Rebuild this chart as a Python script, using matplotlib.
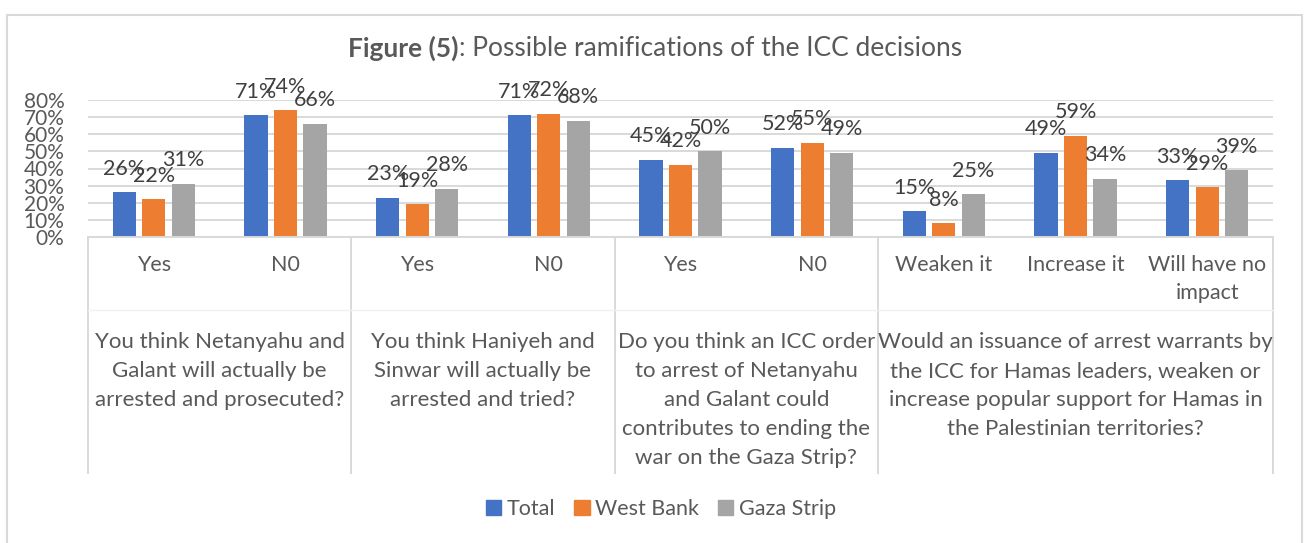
import matplotlib.pyplot as plt
from matplotlib.patches import Patch, Rectangle
from matplotlib.lines import Line2D

plt.rcParams['font.family'] = ['Lato', 'DejaVu Sans']

# data
series = ['Total', 'West Bank', 'Gaza Strip']
colors = ['#4472C4', '#ED7D31', '#A5A5A5']
categories = ['Yes', 'N0', 'Yes', 'N0', 'Yes', 'N0',
              'Weaken it', 'Increase it', 'Will have no\nimpact']
total = [26, 71, 23, 71, 45, 52, 15, 49, 33]
west_bank = [22, 74, 19, 72, 42, 55, 8, 59, 29]
gaza = [31, 66, 28, 68, 50, 49, 25, 34, 39]
groups = ['You think Netanyahu and\nGalant will actually be\narrested and prosecuted?',
          'You think Haniyeh and\nSinwar will actually be\narrested and tried?',
          'Do you think an ICC order\nto arrest of Netanyahu\nand Galant could\ncontributes to ending the\nwar on the Gaza Strip?',
          'Would an issuance of arrest warrants by\nthe ICC for Hamas leaders, weaken or\nincrease popular support for Hamas in\nthe Palestinian territories?']
group_sizes = [2, 2, 2, 3]
yticks = [0, 10, 20, 30, 40, 50, 60, 70, 80]

W, H = 1304, 543
fig = plt.figure(figsize=(W / 100, H / 100), dpi=100)
x0, x1, ytop, ybot = 88, 1273, 100, 237
ax = fig.add_axes([x0 / W, 1 - ybot / H, (x1 - x0) / W, (ybot - ytop) / H])

def ay(ypx):
    # pixel row -> axes fraction
    return (ybot - ypx) / (ybot - ytop)

grey_txt = '#595959'
line_c = '#D9D9D9'

off, bw = 0.224, 0.175
for j, vals in enumerate([total, west_bank, gaza]):
    xs = [i + (j - 1) * off for i in range(len(categories))]
    ax.bar(xs, vals, width=bw, color=colors[j], zorder=3)
    for x, v in zip(xs, vals):
        ax.annotate(f'{v}%', (x, v), xytext=(0, 17), textcoords='offset points',
                    ha='center', va='center', fontsize=15.5, color='#404040', zorder=4)

ax.set_xlim(-0.5, len(categories) - 0.5)
ax.set_ylim(0, 80)
ax.set_yticks(yticks)
ax.set_yticklabels([f'{t}%' for t in yticks], fontsize=15, color=grey_txt)
ax.tick_params(axis='y', length=0, pad=17)
ax.set_xticks([])
ax.grid(axis='y', color=line_c, lw=1.4, zorder=0)
for s in ['top', 'right', 'left']:
    ax.spines[s].set_visible(False)
ax.spines['bottom'].set_color(line_c)
ax.spines['bottom'].set_linewidth(1.4)
ax.spines['bottom'].set_zorder(5)

tr = ax.get_xaxis_transform()
for i, c in enumerate(categories):
    ax.text(i, ay(255), c, transform=tr, ha='center', va='top', fontsize=15.5,
            color=grey_txt, linespacing=1.5)

# group separators and group labels
bounds = [-0.5]
for n in group_sizes:
    bounds.append(bounds[-1] + n)
for b in bounds:
    ax.add_line(Line2D([b, b], [0, ay(473)], transform=tr, color=line_c, lw=1.4,
                       clip_on=False))
ax.add_line(Line2D([-0.5, len(categories) - 0.5], [ay(310), ay(310)], transform=tr,
                   color='#F0F0F0', lw=1, clip_on=False))
for k, g in enumerate(groups):
    mid = (bounds[k] + bounds[k + 1]) / 2
    ax.text(mid, ay(332), g, transform=tr, ha='center', va='top', fontsize=16,
            color=grey_txt, linespacing=1.56)

# title: bold part + normal part, centred together
fig.canvas.draw()
r = fig.canvas.get_renderer()
t1 = fig.text(0, 0, 'Figure (5)', fontsize=19, fontweight='bold', color=grey_txt)
t2 = fig.text(0, 0, ': Possible ramifications of the ICC decisions', fontsize=19,
              color=grey_txt)
w1 = t1.get_window_extent(r).width
w2 = t2.get_window_extent(r).width
start = 655 - (w1 + w2) / 2
yt = 1 - 48 / H
t1.set_position((start / W, yt))
t1.set_va('center')
t2.set_position(((start + w1) / W, yt))
t2.set_va('center')

handles = [Patch(color=c, label=s) for c, s in zip(colors, series)]
fig.legend(handles=handles, loc='center', bbox_to_anchor=(661 / W, 1 - 509 / H),
           ncol=3, frameon=False, fontsize=15.5, handlelength=0.7, handleheight=0.7,
           handletextpad=0.25, columnspacing=0.9, labelcolor=grey_txt)

fig.patches.append(Rectangle((7, -5), 1295, H - 5 - 10 + 5, transform=None,
                             fill=False, edgecolor=line_c, lw=1.5))

fig.savefig('out.png', dpi=100)
